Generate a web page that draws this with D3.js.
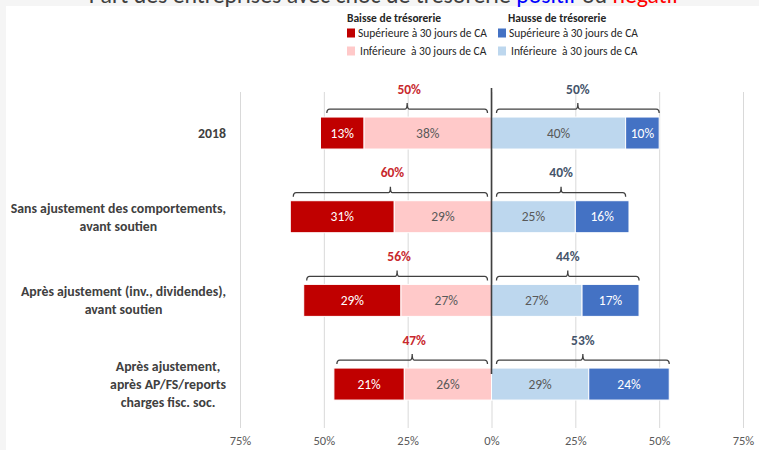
<!DOCTYPE html>
<html>
<head>
<meta charset="utf-8">
<script src="https://cdn.jsdelivr.net/npm/d3@7/dist/d3.min.js"></script>
<style>
  html, body { margin: 0; padding: 0; background: #f5f5f5; }
  svg { display: block; }
  text { font-family: "Carlito", "Liberation Sans Narrow", "Lato", "Open Sans", sans-serif; }
</style>
</head>
<body>
<svg id="chart" width="759" height="450"></svg>
<script>
// Scenarios (rows) and their multi-line labels
const categories = [
  "2018",
  "Sans ajustement des comportements,|avant soutien",
  "Après ajustement (inv., dividendes),|avant soutien",
  "Après ajustement,|après AP/FS/reports|charges fisc. soc."
];

// Share of firms (%) per cash shock class
const baisseSup = [13, 31, 29, 21];   // drop > 30 days of turnover
const baisseInf = [38, 29, 27, 26];   // drop < 30 days of turnover
const hausseInf = [40, 25, 27, 29];   // rise < 30 days of turnover
const hausseSup = [10, 16, 17, 24];   // rise > 30 days of turnover

// Totals shown above the braces
const totalBaisse = [50, 60, 56, 47];
const totalHausse = [50, 40, 44, 53];

const tickValues = [-75, -50, -25, 0, 25, 50, 75];

const colors = {
  baisseSup: "#c00000",
  baisseInf: "#ffc9c9",
  hausseInf: "#bdd7ee",
  hausseSup: "#4472c4"
};

const svg = d3.select("#chart");
const W = 759, H = 450;

// page background and white panel
svg.append("rect").attr("x", 6).attr("y", 6).attr("width", W - 6).attr("height", H - 6).attr("fill", "#ffffff");

// Title (runs above the panel's top edge)
const title = svg.append("text")
  .attr("x", 384).attr("y", 3)
  .attr("text-anchor", "middle")
  .attr("font-size", 23.8)
  .attr("fill", "#404040");
title.append("tspan").text("Part des entreprises avec choc de trésorerie ");
title.append("tspan").attr("fill", "#0000ff").text("positif");
title.append("tspan").text(" ou ");
title.append("tspan").attr("fill", "#ff0000").text("négatif");

// Scales
const x = d3.scaleLinear().domain([-75, 75]).range([240, 743]);
const y = d3.scalePoint().domain(categories).range([91.2, 425.9]).padding(0.5);
const barH = 32;

// Axis with gridlines
const axis = d3.axisBottom(x)
  .tickValues(tickValues)
  .tickSize(-(428 - 92))
  .tickPadding(7)
  .tickFormat(d => Math.abs(d) + "%");
const gAxis = svg.append("g").attr("transform", "translate(0,428)").call(axis);
gAxis.select(".domain").remove();
gAxis.selectAll(".tick line").attr("stroke", "#d9d9d9").attr("stroke-width", 1);
gAxis.selectAll(".tick text").attr("fill", "#595959").attr("font-size", 12.5).attr("dy", "0.8em");

// Stacked segments
const rows = categories.map((c, i) => ({
  cat: c,
  segs: [
    { key: "baisseSup", x0: -(baisseInf[i] + baisseSup[i]), x1: -baisseInf[i], v: baisseSup[i], txt: "#ffffff" },
    { key: "baisseInf", x0: -baisseInf[i], x1: 0, v: baisseInf[i], txt: "#595959" },
    { key: "hausseInf", x0: 0, x1: hausseInf[i], v: hausseInf[i], txt: "#595959" },
    { key: "hausseSup", x0: hausseInf[i], x1: hausseInf[i] + hausseSup[i], v: hausseSup[i], txt: "#ffffff" }
  ],
  tb: totalBaisse[i],
  th: totalHausse[i]
}));

const gRows = svg.selectAll("g.row").data(rows).join("g").attr("class", "row");

gRows.selectAll("rect.seg").data(d => d.segs.map(s => ({ ...s, cat: d.cat }))).join("rect")
  .attr("class", "seg")
  .attr("x", s => x(s.x0))
  .attr("width", s => x(s.x1) - x(s.x0))
  .attr("y", s => y(s.cat) - barH / 2)
  .attr("height", barH)
  .attr("fill", s => colors[s.key])
  .attr("stroke", "#ffffff")
  .attr("stroke-width", 1);

gRows.selectAll("text.seglab").data(d => d.segs.map(s => ({ ...s, cat: d.cat }))).join("text")
  .attr("class", "seglab")
  .attr("x", s => (x(s.x0) + x(s.x1)) / 2)
  .attr("y", s => y(s.cat))
  .attr("dy", "0.35em")
  .attr("text-anchor", "middle")
  .attr("font-size", 13.5)
  .attr("fill", s => s.txt)
  .text(s => s.v + "%");

// Centre line
svg.append("line")
  .attr("x1", x(0)).attr("x2", x(0))
  .attr("y1", 88).attr("y2", 374)
  .attr("stroke", "#404040").attr("stroke-width", 1.6);

// Braces above each half
function bracePath(x0, x1, yb) {
  const r = 3, mid = (x0 + x1) / 2;
  return `M${x0},${yb + 4} Q${x0},${yb} ${x0 + r},${yb} L${mid - 2},${yb} Q${mid},${yb} ${mid},${yb - 6}` +
         ` Q${mid},${yb} ${mid + 2},${yb} L${x1 - r},${yb} Q${x1},${yb} ${x1},${yb + 4}`;
}

rows.forEach(d => {
  const yc = y(d.cat);
  const yb = yc - barH / 2 - 8;
  const lx0 = x(-d.tb) + 3, lx1 = x(0) - 4;
  const rx0 = x(0) + 5, rx1 = x(d.th);
  svg.append("path").attr("d", bracePath(lx0, lx1, yb))
    .attr("fill", "none").attr("stroke", "#404040").attr("stroke-width", 1.3);
  svg.append("path").attr("d", bracePath(rx0, rx1, yb))
    .attr("fill", "none").attr("stroke", "#404040").attr("stroke-width", 1.3);
  svg.append("text").attr("x", (lx0 + lx1) / 2 + 2).attr("y", yb - 20).attr("dy", "0.35em")
    .attr("text-anchor", "middle").attr("font-size", 13.5).attr("font-weight", "bold")
    .attr("fill", "#c8282d").text(d.tb + "%");
  svg.append("text").attr("x", (rx0 + rx1) / 2).attr("y", yb - 20).attr("dy", "0.35em")
    .attr("text-anchor", "middle").attr("font-size", 13.5).attr("font-weight", "bold")
    .attr("fill", "#44546a").text(d.th + "%");
});

// Category labels: block centred, widest line ending at the right edge
const labelRight = 226, lineH = 18;
categories.forEach(c => {
  const lines = c.split("|");
  const g = svg.append("g");
  const t = g.selectAll("text").data(lines).join("text")
    .attr("text-anchor", "middle")
    .attr("font-size", 13.8)
    .attr("font-weight", "bold")
    .attr("fill", "#404040")
    .attr("y", (l, i) => y(c) + (i - (lines.length - 1) / 2) * lineH)
    .attr("dy", "0.35em")
    .text(l => l);
  let maxW = 0;
  t.each(function () { maxW = Math.max(maxW, this.getComputedTextLength()); });
  t.attr("x", labelRight - maxW / 2);
});

// Legend
const legend = [
  { col: 0, row: 0, key: "baisseSup", label: "Supérieure à 30 jours de CA" },
  { col: 0, row: 1, key: "baisseInf", label: "Inférieure  à 30 jours de CA" },
  { col: 1, row: 0, key: "hausseSup", label: "Supérieure à 30 jours de CA" },
  { col: 1, row: 1, key: "hausseInf", label: "Inférieure  à 30 jours de CA" }
];
const legendHeads = ["Baisse de trésorerie", "Hausse de trésorerie"];
const colX = [347, 498];
legendHeads.forEach((h, i) => {
  svg.append("text").attr("x", colX[i] + (i ? 10 : 0)).attr("y", 18).attr("dy", "0.35em")
    .attr("font-size", 11.5).attr("font-weight", "bold").attr("fill", "#262626").text(h);
});
legend.forEach(l => {
  const ly = l.row ? 51 : 33;
  svg.append("rect").attr("x", colX[l.col]).attr("y", ly - 4.5).attr("width", 8).attr("height", 9)
    .attr("fill", colors[l.key]);
  svg.append("text").attr("x", colX[l.col] + (l.row ? 13 : 11)).attr("y", ly).attr("dy", "0.35em")
    .attr("font-size", 11.5).attr("fill", "#262626").text(l.label.replace("  ", "\u00a0 "));
});
</script>
</body>
</html>
